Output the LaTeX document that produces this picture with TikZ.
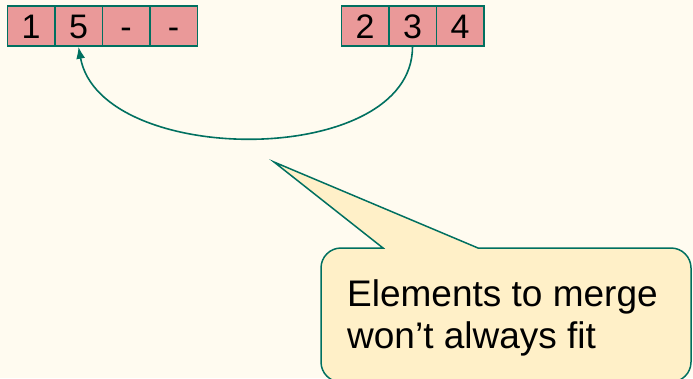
\documentclass[tikz,border=0pt]{standalone}
\usepackage{fontspec}
\setmainfont{Liberation Sans}
\usepackage{tikz}
\usetikzlibrary{arrows.meta}
\definecolor{paper}{RGB}{255,251,240}
\definecolor{cellred}{RGB}{234,153,153}
\definecolor{lineteal}{RGB}{0,112,96}
\definecolor{notefill}{RGB}{255,240,200}
\tikzstyle{cell}=[rectangle, draw=lineteal, fill=cellred, line width=1.5pt, minimum width=47.5pt, minimum height=40pt, inner sep=0pt, text height=24pt, text depth=0pt, font=\fontsize{34}{40}\selectfont]
\tikzstyle{arrow}=[draw=lineteal, line width=1.6pt, -{Latex[length=12pt, width=9pt]}]
\tikzstyle{note}=[draw=lineteal, fill=notefill, line width=1.5pt]

\begin{document}
\begin{tikzpicture}[x=1pt, y=-1pt]
	\fill[paper] (0, 0) rectangle (693, 378);
	\useasboundingbox (0, 0) rectangle (693, 378);
	\begin{scope}
		\node (a1) at (31, 26)[cell] {1};
		\node (a2) at (78.5, 26)[cell] {5};
		\node (a3) at (126, 26)[cell] {-};
		\node (a4) at (173.5, 26)[cell] {-};

		\node (b1) at (365, 26)[cell] {2};
		\node (b2) at (412.5, 26)[cell] {3};
		\node (b3) at (460, 26)[cell] {4};
	\end{scope}
	\begin{scope}
		\path [arrow] (b2.south) .. controls +(0, 122) and +(22, 121) .. (a2.south);
	\end{scope}
	\begin{scope}
		\clip (0, 0) rectangle (693, 378);
		\draw[note] (383, 248) -- (274, 162) -- (478, 248)
			{[rounded corners=20pt] -- (691, 248) -- (691, 382) -- (321, 382) -- (321, 248)} -- cycle;
		\node (txt) at (347, 279)[anchor=north west, inner sep=0pt, align=left, font=\fontsize{37}{42}\selectfont] {Elements to merge\\won’t always fit};
	\end{scope}
\end{tikzpicture}
\end{document}
